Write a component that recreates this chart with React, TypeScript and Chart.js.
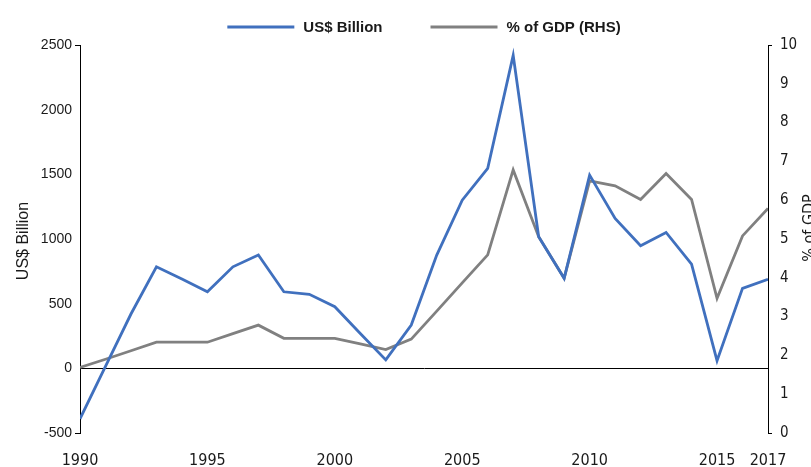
import React, { useEffect, useRef } from "react";
import { Chart, registerables } from "chart.js";

Chart.register(...registerables);

const years = [
  1990, 1991, 1992, 1993, 1994, 1995, 1996, 1997, 1998, 1999, 2000, 2001, 2002, 2003,
  2004, 2005, 2006, 2007, 2008, 2009, 2010, 2011, 2012, 2013, 2014, 2015, 2016, 2017,
];
const usdBillion = [
  -390, 15, 420, 785, 690, 592, 785, 876, 592, 572, 476, 270, 65, 335,
  876, 1300, 1546, 2420, 1017, 696, 1494, 1159, 948, 1051, 806, 59, 618, 688,
];
const pctGdp = [
  1.69, 1.9, 2.12, 2.34, 2.34, 2.34, 2.56, 2.78, 2.44, 2.44, 2.44, 2.3, 2.15, 2.42,
  3.14, 3.87, 4.59, 6.78, 5.06, 3.99, 6.5, 6.37, 6.02, 6.69, 6.02, 3.47, 5.08, 5.79,
];
const xTickYears = [1990, 1995, 2000, 2005, 2010, 2015, 2017];
const seriesLabels = ["US$ Billion", "% of GDP (RHS)"];
const leftTitle = "US$ Billion";
const rightTitle = "% of GDP";

const BLUE = "#4070BE";
const GREY = "#808080";
const NARROW = '"Liberation Sans Narrow", "DejaVu Sans Condensed", "Liberation Sans", sans-serif';
const SANS = '"Liberation Sans", Arial, sans-serif';

const decorPlugin = {
  id: "decor",
  afterDraw(chart: any) {
    const { ctx, chartArea } = chart;
    ctx.save();
    // legend
    ctx.font = `bold 15px ${SANS}`;
    const lineLen = 67;
    const gapText = 9;
    const gapItems = 48;
    const colors = [BLUE, GREY];
    const widths = seriesLabels.map((t) => ctx.measureText(t).width);
    const total = widths.reduce((a, w) => a + lineLen + gapText + w, 0) + gapItems;
    let x = (chartArea.left + chartArea.right) / 2 - total / 2;
    const y = 27;
    seriesLabels.forEach((t, i) => {
      ctx.strokeStyle = colors[i];
      ctx.lineWidth = 3;
      ctx.beginPath();
      ctx.moveTo(x, y);
      ctx.lineTo(x + lineLen, y);
      ctx.stroke();
      ctx.fillStyle = "#1a1a1a";
      ctx.textAlign = "left";
      ctx.textBaseline = "middle";
      ctx.fillText(t, x + lineLen + gapText, y + 1);
      x += lineLen + gapText + widths[i] + gapItems;
    });
    // axis titles
    ctx.fillStyle = "#1a1a1a";
    ctx.textAlign = "center";
    ctx.textBaseline = "middle";
    ctx.save();
    ctx.translate(24, 241);
    ctx.rotate(-Math.PI / 2);
    ctx.font = `16px ${SANS}`;
    ctx.fillText(leftTitle, 0, 0);
    ctx.restore();
    ctx.save();
    ctx.translate(810, 228);
    ctx.rotate(-Math.PI / 2);
    ctx.font = `16px ${NARROW}`;
    ctx.fillText(rightTitle, 0, 0);
    ctx.restore();
    ctx.restore();
  },
};

export default function App() {
  const ref = useRef<HTMLCanvasElement>(null);
  useEffect(() => {
    if (!ref.current) return;
    const endTick = (c: any) => {
      const n = c.scale.ticks.length;
      return c.index === 0 || c.index === n - 1 ? "#000" : "rgba(0,0,0,0)";
    };
    const chart = new Chart(ref.current, {
      type: "line",
      data: {
        datasets: [
          {
            label: seriesLabels[0],
            data: years.map((yr, i) => ({ x: yr, y: usdBillion[i] })),
            borderColor: BLUE,
            backgroundColor: BLUE,
            borderWidth: 2.8,
            pointRadius: 0,
            tension: 0,
            yAxisID: "y",
          },
          {
            label: seriesLabels[1],
            data: years.map((yr, i) => ({ x: yr, y: pctGdp[i] })),
            borderColor: GREY,
            backgroundColor: GREY,
            borderWidth: 2.8,
            pointRadius: 0,
            tension: 0,
            yAxisID: "y1",
          },
        ],
      },
      options: {
        animation: false,
        responsive: false,
        layout: { padding: { top: 45, left: 0, right: 0, bottom: 0 } },
        plugins: { legend: { display: false }, tooltip: { enabled: false } },
        scales: {
          x: {
            type: "linear",
            min: 1990,
            max: 2017,
            afterBuildTicks: (s: any) => {
              s.ticks = xTickYears.map((v) => ({ value: v }));
            },
            afterFit: (s: any) => {
              s.height = 34;
            },
            grid: { display: false, drawTicks: false },
            border: { display: false },
            ticks: {
              padding: 18,
              autoSkip: false,
              maxRotation: 0,
              color: "#1a1a1a",
              font: { family: NARROW, size: 16 },
              callback: (v: any) => String(v),
            },
          },
          y: {
            position: "left",
            min: -500,
            max: 2500,
            afterFit: (s: any) => {
              s.width = 80;
            },
            ticks: {
              stepSize: 500,
              padding: 3,
              color: "#1a1a1a",
              font: { family: SANS, size: 14 },
              callback: (v: any) => String(v),
            },
            grid: {
              color: (c: any) => (c.tick && c.tick.value === 0 ? "#000" : "rgba(0,0,0,0)"),
              lineWidth: 1,
              drawTicks: true,
              tickLength: 5,
              tickColor: endTick,
            },
            border: { display: true, color: "#000", width: 1 },
          },
          y1: {
            position: "right",
            min: 0,
            max: 10,
            afterFit: (s: any) => {
              s.width = 43;
            },
            ticks: {
              stepSize: 1,
              padding: 8,
              color: "#1a1a1a",
              font: { family: NARROW, size: 15 },
              callback: (v: any) => String(v),
            },
            grid: {
              drawOnChartArea: false,
              drawTicks: true,
              tickLength: 4,
              tickColor: endTick,
            },
            border: { display: true, color: "#000", width: 1 },
          },
        },
      },
      plugins: [decorPlugin],
    });
    return () => chart.destroy();
  }, []);
  return (
    <div style={{ position: "absolute", left: 0, top: 0, width: 811, height: 467 }}>
      <canvas ref={ref} width={811} height={467} />
    </div>
  );
}
